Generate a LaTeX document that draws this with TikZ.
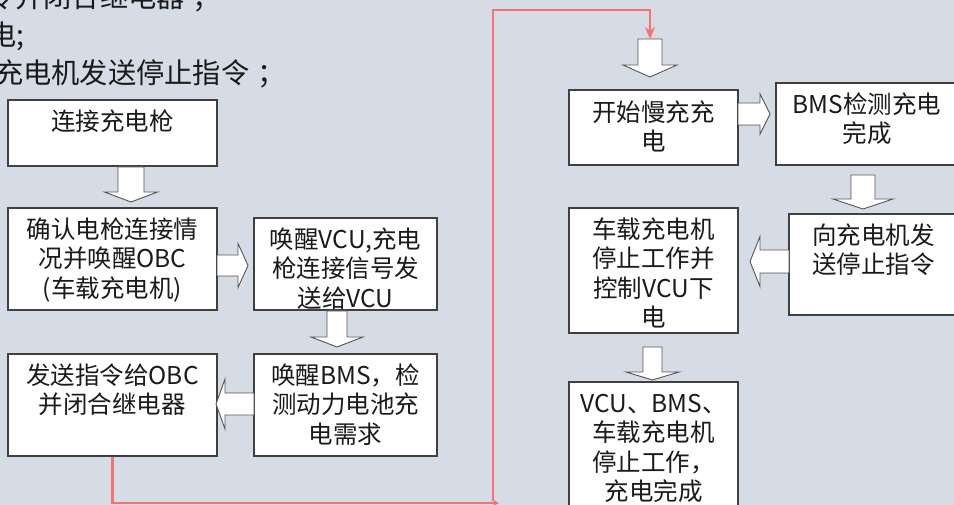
\documentclass[tikz,border=0pt]{standalone}
\usepackage{fontspec}
\newfontfamily\cjk{Noto Sans CJK SC}
\usetikzlibrary{arrows.meta,calc}
\definecolor{bgc}{HTML}{D6DCE5}
\definecolor{redl}{RGB}{250,112,115}
\definecolor{bord}{HTML}{404040}
\definecolor{txtc}{HTML}{1A1A1A}
\newcommand\boxtext[1]{\parbox[t]{240pt}{\centering\fontsize{24.5pt}{29.5pt}\selectfont #1}}
\newcommand\dblk[6]{\draw[blk] ({#1-#5},#2) -- ({#1+#5},#2) -- ({#1+#5},#3) -- ({#1+#6},#3) -- (#1,#4) -- ({#1-#6},#3) -- ({#1-#5},#3) -- cycle;}
\newcommand\hblk[6]{\draw[blk] (#2,{#1-#5}) -- (#3,{#1-#5}) -- (#3,{#1-#6}) -- (#4,#1) -- (#3,{#1+#6}) -- (#3,{#1+#5}) -- (#2,{#1+#5}) -- cycle;}
\tikzset{
  box/.style={draw=bord, line width=1.3pt, fill=white, inner sep=0pt},
  txt/.style={anchor=base, inner sep=0pt, font=\cjk, text=txtc},
  toptxt/.style={anchor=base west, inner sep=0pt, font=\cjk\fontsize{28.25pt}{34pt}\selectfont, text=txtc},
  blk/.style={draw=bord!90, line width=0.9pt, fill=white, line join=miter},
  redc/.style={draw=redl, line width=2.6pt},
}
\begin{document}
\begin{tikzpicture}[x=1pt,y=-1pt]
\useasboundingbox (0,0) rectangle (954,505);
\clip (0,0) rectangle (954,505);
\fill[bgc] (0,0) rectangle (954,505);

% top clipped text
\node[toptxt] (t1) at (-13,7.7) {令并闭合继电器\hspace{8pt}；};
\node[toptxt] (t2) at (-12,45.7) {电;};
\node[toptxt] (t3) at (-5,83.7) {充电机发送停止指令\hspace{8pt}；};

% boxes
\node[box, minimum width=209pt, minimum height=66pt] (b1) at (112.5,133) {};
\node[box, minimum width=209pt, minimum height=102pt] (b2) at (112.5,259) {};
\node[box, minimum width=183pt, minimum height=92pt] (b3) at (345.5,264) {};
\node[box, minimum width=183pt, minimum height=102pt] (b4) at (345.5,405) {};
\node[box, minimum width=209pt, minimum height=102pt] (b5) at (112.5,405) {};
\node[box, minimum width=169pt, minimum height=75pt] (b6) at (653.5,127.5) {};
\node[box, minimum width=182pt, minimum height=82pt] (b7) at (867,124) {};
\node[box, minimum width=169pt, minimum height=101pt] (b8) at (873.5,264.5) {};
\node[box, minimum width=169pt, minimum height=125pt] (b9) at (653.5,270.5) {};
\node[box, minimum width=169pt, minimum height=143pt] (b10) at (653.5,453.5) {};

% box texts
\node[txt] (b1t) at ($(b1.north)+(0,31)$) {\boxtext{连接充电枪}};
\node[txt] (b2t) at ($(b2.north)+(0,31)$) {\boxtext{确认电枪连接情\\况并唤醒OBC\\(车载充电机)}};
\node[txt] (b3t) at ($(b3.north)+(0,31)$) {\boxtext{唤醒VCU,充电\\枪连接信号发\\送给VCU}};
\node[txt] (b4t) at ($(b4.north)+(0,31)$) {\boxtext{唤醒BMS，检\\测动力电池充\\电需求}};
\node[txt] (b5t) at ($(b5.north)+(0,31)$) {\boxtext{发送指令给OBC\\并闭合继电器}};
\node[txt] (b6t) at ($(b6.north)+(0,32)$) {\boxtext{开始慢充充\\电}};
\node[txt] (b7t) at ($(b7.north)+(0,31)$) {\boxtext{BMS检测充电\\完成}};
\node[txt] (b8t) at ($(b8.north)+(0,31)$) {\boxtext{向充电机发\\送停止指令}};
\node[txt] (b9t) at ($(b9.north)+(0,31)$) {\boxtext{车载充电机\\停止工作并\\控制VCU下\\电}};
\node[txt] (b10t) at ($(b10.north)+(0,31)$) {\boxtext{VCU、BMS、\\车载充电机\\停止工作，\\充电完成}};

% block arrows
\dblk{131}{167}{192}{202}{13}{26.5}
\hblk{265.5}{217}{238}{248}{10.5}{22}
\dblk{337}{311}{337}{347}{10}{26}
\hblk{404}{254}{225}{216}{11}{25}
\dblk{650}{39}{65}{77}{12}{27}
\hblk{114}{738}{760}{770}{11}{20}
\dblk{863}{175}{199}{209}{12}{30}
\hblk{261.5}{789}{760}{750}{11.5}{25}
\dblk{652.5}{347}{372}{380}{9.5}{26.5}

% red connectors
\coordinate (rc1) at (499,503);
\coordinate (rc2) at (493,501);
\coordinate (rtop) at (650,10);
\coordinate (a6in) at (650,39);
\draw[redc, -{Stealth[length=6pt,width=6pt]}] (b5.south) |- (rc1);
\draw[redc, -{Stealth[length=12pt,width=10pt]}] (rc2) |- (rtop) -- (a6in);
\end{tikzpicture}
\end{document}
